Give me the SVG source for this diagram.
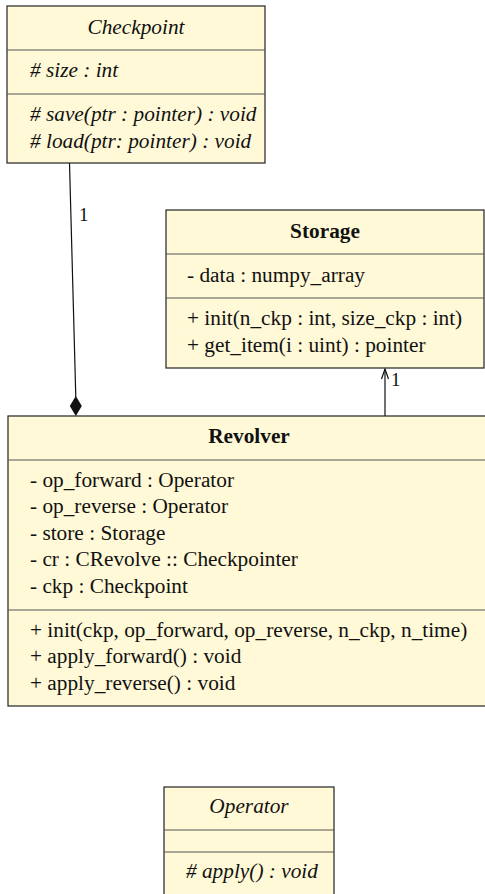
<svg xmlns="http://www.w3.org/2000/svg" width="485" height="894" viewBox="0 0 485 894">
<style>
.box{fill:#fff9d7;stroke:#222;stroke-width:1.2}
.div{stroke:#555;stroke-width:1.2}
text{font-family:"Liberation Serif","DejaVu Serif",serif;font-size:21.3px;fill:#111}
.t{text-anchor:middle}
.b{font-weight:bold}
.i{font-style:italic}
.lbl{font-size:19px}
.conn{stroke:#111;stroke-width:1.2;fill:none}
</style>
<g id="connectors">
<line class="conn" x1="69.5" y1="163" x2="75.8" y2="397"/>
<path d="M75.8,396 L81.8,406 L75.8,416 L69.8,406 Z" fill="#111"/>
<text class="lbl" x="79" y="221">1</text>
<line class="conn" x1="385" y1="416" x2="385" y2="369"/>
<path d="M381.5,379 L385,369 L388.5,379" fill="none" stroke="#111" stroke-width="1.2"/>
<text class="lbl" x="391" y="386">1</text>
</g>
<g id="Checkpoint">
<rect class="box" x="7" y="6" width="258" height="157"/>
<line class="div" x1="7" y1="50" x2="265" y2="50"/>
<line class="div" x1="7" y1="94" x2="265" y2="94"/>
<text class="t i" x="136" y="34">Checkpoint</text>
<text class="i" x="30" y="77"># size : int</text>
<text class="i" x="30" y="121"># save(ptr : pointer) : void</text>
<text class="i" x="30" y="148"># load(ptr: pointer) : void</text>
</g>
<g id="Storage">
<rect class="box" x="166" y="210" width="318" height="158"/>
<line class="div" x1="166" y1="254" x2="484" y2="254"/>
<line class="div" x1="166" y1="298" x2="484" y2="298"/>
<text class="t b" x="325" y="238">Storage</text>
<text x="187" y="282">- data : numpy_array</text>
<text x="187" y="325">+ init(n_ckp : int, size_ckp : int)</text>
<text x="187" y="352">+ get_item(i : uint) : pointer</text>
</g>
<g id="Revolver">
<rect class="box" x="8" y="416" width="490" height="290"/>
<line class="div" x1="8" y1="460" x2="498" y2="460"/>
<line class="div" x1="8" y1="610" x2="498" y2="610"/>
<text class="t b" x="249" y="443">Revolver</text>
<text x="30" y="487">- op_forward : Operator</text>
<text x="30" y="513">- op_reverse : Operator</text>
<text x="30" y="540">- store : Storage</text>
<text x="30" y="566">- cr : CRevolve :: Checkpointer</text>
<text x="30" y="593">- ckp : Checkpoint</text>
<text x="30" y="637">+ init(ckp, op_forward, op_reverse, n_ckp, n_time)</text>
<text x="30" y="663">+ apply_forward() : void</text>
<text x="30" y="690">+ apply_reverse() : void</text>
</g>
<g id="Operator">
<rect class="box" x="164" y="787" width="170" height="120"/>
<line class="div" x1="164" y1="830" x2="334" y2="830"/>
<line class="div" x1="164" y1="852" x2="334" y2="852"/>
<text class="t i" x="249" y="813">Operator</text>
<text class="i" x="186" y="878"># apply() : void</text>
</g>
</svg>
